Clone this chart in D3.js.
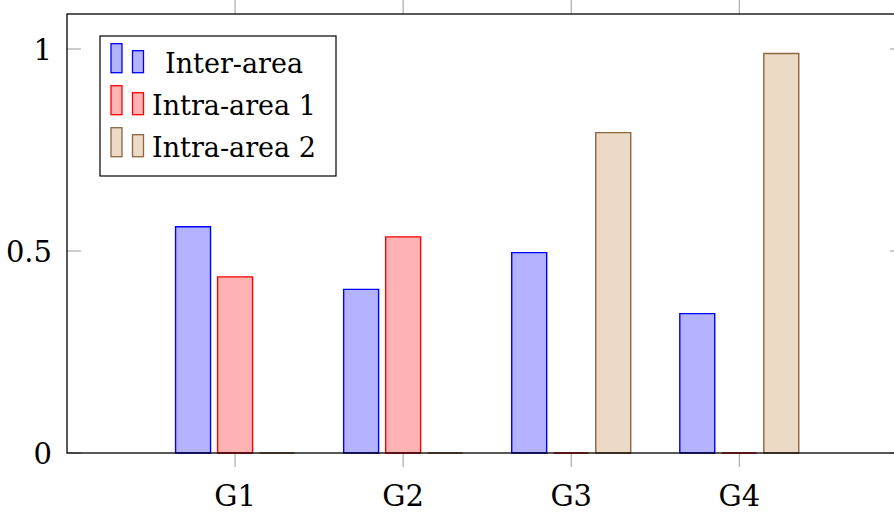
<!DOCTYPE html>
<html>
<head>
<meta charset="utf-8">
<script src="https://cdn.jsdelivr.net/npm/d3@7"></script>
<style>
  body { margin: 0; background: #fff; }
  svg { display: block; }
  text { font-family: 'DejaVu Serif', serif; fill: #000; }
</style>
</head>
<body>
<svg id="chart" width="894" height="512"></svg>
<script>
// data
const groups = ['G1', 'G2', 'G3', 'G4'];
const seriesNames = ['Inter-area', 'Intra-area 1', 'Intra-area 2'];
const interArea = [0.56, 0.405, 0.496, 0.345];
const intraArea1 = [0.436, 0.535, 0, 0];
const intraArea2 = [0, 0, 0.793, 0.989];
const yTicks = [0, 0.5, 1];

const seriesValues = [interArea, intraArea1, intraArea2];
const fills = ['#b3b3ff', '#ffb3b3', '#ecd9c6'];
const strokes = ['#0000ff', '#ff0000', '#8c6640'];

const svg = d3.select('#chart');
const plotLeft = 67;
const plotRight = 904;
const plotTop = 14;
const plotBottom = 453;
const fontSize = 28;
const tickLen = 14;

const xScale = d3.scaleLinear().domain([0, 4.98]).range([plotLeft, plotRight]);
const yScale = d3.scaleLinear().domain([0, 1]).range([plotBottom, 49]);

const unit = xScale(1) - xScale(0);
const barOffset = 0.25; // in group units
const barWidth = 0.208 * unit;

// ticks (gray) first
const tickG = svg.append('g').attr('stroke', '#999').attr('stroke-width', 1);
groups.forEach((g, i) => {
  const x = xScale(i + 1);
  tickG.append('line').attr('x1', x).attr('x2', x).attr('y1', plotTop - tickLen).attr('y2', plotTop);
  tickG.append('line').attr('x1', x).attr('x2', x).attr('y1', plotBottom).attr('y2', plotBottom + tickLen);
});
yTicks.forEach((t) => {
  const y = yScale(t);
  tickG.append('line').attr('x1', plotLeft).attr('x2', plotLeft + tickLen).attr('y1', y).attr('y2', y);
  tickG.append('line').attr('x1', plotRight - tickLen).attr('x2', plotRight).attr('y1', y).attr('y2', y);
});

// bars as paths so zero-height ones still show a line
seriesValues.forEach((vals, s) => {
  svg.append('g')
    .selectAll('path')
    .data(vals)
    .enter()
    .append('path')
    .attr('d', (v, i) => {
      const cx = xScale(i + 1 + (s - 1) * barOffset);
      const p = d3.path();
      p.rect(cx - barWidth / 2, yScale(v), barWidth, yScale(0) - yScale(v));
      return p.toString();
    })
    .attr('fill', fills[s])
    .attr('stroke', strokes[s])
    .attr('stroke-width', 1.4);
});

// frame
svg.append('rect')
  .attr('x', plotLeft)
  .attr('y', plotTop)
  .attr('width', plotRight - plotLeft)
  .attr('height', plotBottom - plotTop)
  .attr('fill', 'none')
  .attr('stroke', '#000')
  .attr('stroke-width', 1.3);

// tick labels
svg.append('g')
  .selectAll('text')
  .data(yTicks)
  .enter()
  .append('text')
  .attr('x', plotLeft - 15)
  .attr('y', d => yScale(d))
  .attr('dy', '0.37em')
  .attr('text-anchor', 'end')
  .attr('font-size', fontSize + 1)
  .text(d => d3.format('~g')(d));

svg.append('g')
  .selectAll('text')
  .data(groups)
  .enter()
  .append('text')
  .attr('x', (d, i) => xScale(i + 1))
  .attr('y', plotBottom + 53)
  .attr('text-anchor', 'middle')
  .attr('font-size', fontSize + 1)
  .text(d => d);

// legend
const legend = svg.append('g');
legend.append('rect')
  .attr('x', 100)
  .attr('y', 36)
  .attr('width', 236)
  .attr('height', 140)
  .attr('fill', '#fff')
  .attr('stroke', '#000')
  .attr('stroke-width', 1.2);

seriesNames.forEach((name, s) => {
  const base = 72.7 + s * 42;
  legend.append('rect')
    .attr('x', 111).attr('y', base - 29)
    .attr('width', 11).attr('height', 29)
    .attr('fill', fills[s]).attr('stroke', strokes[s]).attr('stroke-width', 1.3);
  legend.append('rect')
    .attr('x', 132.5).attr('y', base - 22)
    .attr('width', 11).attr('height', 22)
    .attr('fill', fills[s]).attr('stroke', strokes[s]).attr('stroke-width', 1.3);
  legend.append('text')
    .attr('x', 234)
    .attr('y', base)
    .attr('text-anchor', 'middle')
    .attr('font-size', fontSize - 1)
    .text(name);
});
</script>
</body>
</html>
